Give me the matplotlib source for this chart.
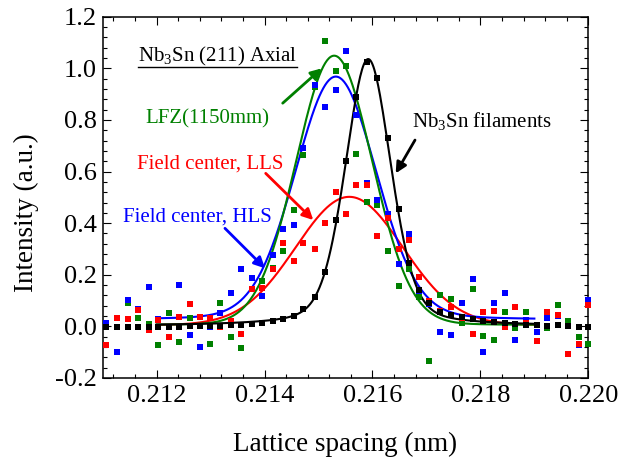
import numpy as np
import matplotlib
matplotlib.use("Agg")
import matplotlib.pyplot as plt
from matplotlib.ticker import MultipleLocator, FormatStrFormatter

# ---------------- data ----------------
lattice_spacing = [0.21107, 0.21127, 0.21146, 0.21165, 0.21185, 0.21203, 0.21222, 0.21242,
                   0.21261, 0.21280, 0.21298, 0.21318, 0.21338, 0.21357, 0.21377, 0.21396,
                   0.21415, 0.21434, 0.21454, 0.21472, 0.21493, 0.21512, 0.21532, 0.21551,
                   0.21570, 0.21590, 0.21608, 0.21629, 0.21649, 0.21668, 0.21687, 0.21704,
                   0.21726, 0.21746, 0.21766, 0.21786, 0.21805, 0.21825, 0.21845, 0.21864,
                   0.21884, 0.21904, 0.21923, 0.21943, 0.21963, 0.21983, 0.22000]

filaments = [-0.003, -0.003, -0.002, -0.002, -0.002, -0.001, -0.001, -0.001, 0.000, 0.000,
             0.002, 0.003, 0.004, 0.005, 0.009, 0.012, 0.021, 0.028, 0.040, 0.066,
             0.113, 0.212, 0.412, 0.642, 0.888, 1.026, 0.962, 0.730, 0.454, 0.247,
             0.141, 0.090, 0.057, 0.044, 0.035, 0.028, 0.022, 0.016, 0.012, 0.008,
             0.005, 0.005, 0.003, 0.004, 0.002, -0.001, -0.001]

hls = [0.014, -0.098, 0.102, 0.066, 0.152, 0.030, -0.003, 0.162, -0.034, -0.081,
       -0.003, 0.053, 0.131, 0.221, 0.189, 0.119, 0.276, 0.379, 0.392, 0.693,
       0.936, 0.852, 0.916, 1.069, 0.819, 0.555, 0.490, 0.434, 0.242, 0.357,
       0.138, 0.086, -0.021, -0.033, 0.092, 0.183, -0.098, 0.090, 0.128, -0.053,
       0.024, -0.022, 0.031, 0.040, 0.003, -0.071, 0.102]

lfz = [0.011, 0.033, 0.092, 0.033, 0.008, -0.072, 0.051, -0.062, 0.031, 0.036,
       -0.068, 0.092, -0.040, -0.085, 0.145, 0.176, 0.225, 0.293, 0.451, 0.664,
       0.928, 1.107, 0.991, 1.010, 0.668, 0.483, 0.471, 0.292, 0.158, 0.221,
       0.115, -0.133, 0.122, 0.106, 0.012, 0.144, -0.037, -0.054, 0.055, -0.005,
       0.055, -0.055, -0.007, 0.084, 0.020, -0.041, -0.069]

lls = [-0.073, 0.034, 0.030, 0.062, -0.014, 0.025, -0.040, 0.035, 0.087, 0.038,
       0.034, -0.002, 0.020, -0.031, 0.144, 0.148, 0.221, 0.324, 0.253, 0.324,
       0.299, 0.402, 0.519, 0.434, 0.548, 0.548, 0.350, 0.420, 0.299, 0.335,
       0.193, 0.097, 0.061, 0.074, 0.033, -0.028, 0.056, 0.061, -0.001, 0.074,
       0.012, -0.057, 0.057, 0.043, -0.107, -0.068, 0.083]

# peak-fit parameters: centre, FWHM, Lorentz fraction, amplitude, baseline
fit_range = [0.2120, 0.2190]
fit_filaments = [0.21592, 0.00100, 0.30, 1.034, 0.002]
fit_lfz = [0.21529, 0.00167, 0.03, 1.044, 0.005]
fit_hls = [0.21532, 0.00178, 0.10, 0.943, 0.025]
fit_lls = [0.21557, 0.00234, 0.00, 0.497, 0.005]

GREEN = "#008000"
BLUE = "#0000FF"
RED = "#FF0000"
BLACK = "#000000"


def pseudo_voigt(x, p):
    x0, w, eta, amp, base = p
    d = (x - x0) / w
    g = np.exp(-4 * np.log(2) * d ** 2)
    lor = 1.0 / (1.0 + 4 * d ** 2)
    return base + amp * (eta * lor + (1 - eta) * g)


plt.rcParams["font.family"] = ["Liberation Serif", "DejaVu Serif"]
plt.rcParams["mathtext.fontset"] = "custom"
plt.rcParams["mathtext.rm"] = "Liberation Serif"
plt.rcParams["mathtext.it"] = "Liberation Serif:italic"
plt.rcParams["mathtext.bf"] = "Liberation Serif:bold"
plt.rcParams["axes.unicode_minus"] = False

fig = plt.figure(figsize=(6.32, 4.67), dpi=100)
ax = fig.add_axes([0.1625, 0.1906, 0.7684, 0.7736])

xf = np.linspace(fit_range[0], fit_range[1], 400)
for p, c in [(fit_lls, RED), (fit_hls, BLUE), (fit_lfz, GREEN), (fit_filaments, BLACK)]:
    ax.plot(xf, pseudo_voigt(xf, p), color=c, lw=1.5, zorder=2)

x = np.array(lattice_spacing)
for ys, c in [(lfz, GREEN), (hls, BLUE), (lls, RED), (filaments, BLACK)]:
    ax.plot(x, ys, ls="none", marker="s", ms=4.0, mew=0, color=c, zorder=3, clip_on=False)

ax.set_xlim(0.211, 0.220)
ax.set_ylim(-0.2, 1.2)
ax.xaxis.set_major_locator(MultipleLocator(0.002))
ax.xaxis.set_minor_locator(MultipleLocator(0.0004))
ax.yaxis.set_major_locator(MultipleLocator(0.2))
ax.yaxis.set_minor_locator(MultipleLocator(0.04))
ax.xaxis.set_major_formatter(FormatStrFormatter("%.3f"))
ax.yaxis.set_major_formatter(FormatStrFormatter("%.1f"))
ax.tick_params(which="both", direction="in", top=True, right=True, width=0.8, labelsize=19)
ax.tick_params(which="major", length=6)
ax.tick_params(axis="x", which="major", pad=5)
ax.tick_params(axis="y", which="major", pad=4)
ax.tick_params(which="minor", length=3)
for s in ax.spines.values():
    s.set_linewidth(1.1)

ax.set_xlabel("Lattice spacing (nm)", fontsize=19.5)
ax.set_ylabel("Intensity (a.u.)", fontsize=19.5)
ax.xaxis.set_label_coords(0.5, -0.148)
ax.yaxis.set_label_coords(-0.131, 0.459)

title = ax.text(0.211654, 1.026, "Nb$_3$Sn (211) Axial", fontsize=15, ha="left", va="baseline", color=BLACK)
ax.text(0.211784, 0.7845, "LFZ(1150mm)", fontsize=15, ha="left", va="baseline", color=GREEN)
ax.text(0.21163, 0.613, "Field center, LLS", fontsize=15, ha="left", va="baseline", color=RED)
ax.text(0.211382, 0.406, "Field center, HLS", fontsize=15, ha="left", va="baseline", color=BLUE)
ax.text(0.216727, 0.772, "Nb$_3$Sn filaments", fontsize=15, ha="left", va="baseline", color=BLACK)

arrows = [((0.214336, 0.865), (0.215059, 1.000), GREEN),
          ((0.214021, 0.593), (0.214903, 0.412), RED),
          ((0.213266, 0.380), (0.214008, 0.225), BLUE),
          ((0.216788, 0.722), (0.216430, 0.593), BLACK)]
for tail, head, c in arrows:
    ax.annotate("", xy=head, xytext=tail,
                arrowprops=dict(arrowstyle="-|>", color=c, lw=2.0, mutation_scale=16,
                                shrinkA=0, shrinkB=0))

# underline of the heading
fig.canvas.draw()
bb = title.get_window_extent(fig.canvas.get_renderer())
inv = ax.transData.inverted()
(x0, _), (x1, _) = inv.transform([(bb.x0, 0), (bb.x1, 0)])
ax.plot([x0, x1], [1.0035, 1.0035], color=BLACK, lw=1.0, zorder=4)

fig.savefig("out.png", dpi=100)
